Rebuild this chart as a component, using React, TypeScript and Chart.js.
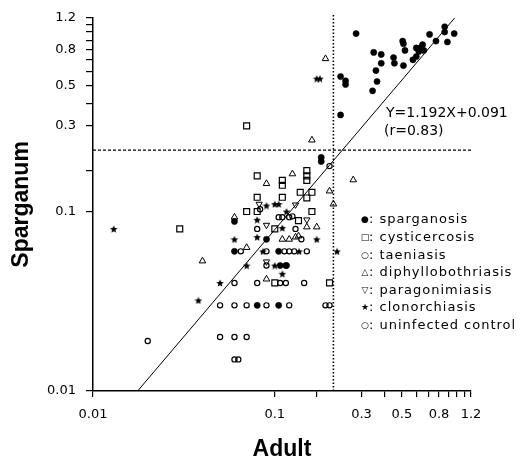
import React, { useEffect, useRef } from 'react';
import { Chart, registerables } from 'chart.js';

Chart.register(...registerables);

// ---- axis ticks ----
const labeledTicks = [0.01, 0.1, 0.3, 0.5, 0.8, 1.2];
const minorTicks = [0.17, 0.4, 0.6, 0.7, 0.9, 1.0, 1.1];

// ---- cut-off lines & regression ----
const cutoffX = 0.21;
const cutoffY = 0.22;
const regX = [0.0176, 0.977];
const regY = [0.01, 1.2];

// ---- series ----
const sparganosisX = [0.28, 0.35, 0.385, 0.45, 0.385, 0.455, 0.51, 0.36, 0.365, 0.345, 0.23, 0.245, 0.245, 0.23, 0.505, 0.51, 0.52, 0.575, 0.6, 0.62, 0.63, 0.65, 0.6, 0.66, 0.71, 0.77, 0.86, 0.86, 0.97, 0.89, 0.18, 0.18, 0.06, 0.09, 0.105, 0.107, 0.116, 0.08, 0.105, 0.06];
const sparganosisY = [0.98, 0.77, 0.75, 0.72, 0.67, 0.67, 0.65, 0.61, 0.53, 0.47, 0.565, 0.535, 0.51, 0.345, 0.89, 0.86, 0.79, 0.7, 0.73, 0.78, 0.815, 0.85, 0.815, 0.79, 0.97, 0.89, 1.07, 1.0, 0.98, 0.88, 0.2, 0.19, 0.06, 0.07, 0.06, 0.05, 0.05, 0.03, 0.03, 0.088];

const cysticercosisX = [0.03, 0.07, 0.08, 0.11, 0.11, 0.15, 0.15, 0.15, 0.138, 0.16, 0.15, 0.11, 0.07, 0.08, 0.16, 0.135, 0.1, 0.1, 0.2, 0.08];
const cysticercosisY = [0.08, 0.3, 0.158, 0.149, 0.14, 0.169, 0.158, 0.149, 0.128, 0.128, 0.119, 0.12, 0.1, 0.1, 0.1, 0.089, 0.08, 0.04, 0.04, 0.12];

const taeniasisX = [0.083, 0.105, 0.11, 0.12, 0.125, 0.13, 0.14, 0.2];
const taeniasisY = [0.103, 0.093, 0.093, 0.093, 0.094, 0.08, 0.07, 0.179];

const diphyllobothriasisX = [0.04, 0.06, 0.07, 0.09, 0.125, 0.11, 0.12, 0.13, 0.135, 0.15, 0.17, 0.09, 0.16, 0.19, 0.27, 0.2, 0.21];
const diphyllobothriasisY = [0.053, 0.093, 0.063, 0.143, 0.162, 0.07, 0.07, 0.072, 0.073, 0.082, 0.082, 0.042, 0.25, 0.71, 0.15, 0.13, 0.11];

const paragonimiasisX = [0.082, 0.09, 0.13, 0.15, 0.09];
const paragonimiasisY = [0.11, 0.084, 0.109, 0.09, 0.0525];

const clonorchiasisX = [0.013, 0.038, 0.05, 0.06, 0.08, 0.08, 0.09, 0.1, 0.105, 0.116, 0.11, 0.086, 0.136, 0.17, 0.22, 0.07, 0.1, 0.11, 0.17, 0.177];
const clonorchiasisY = [0.08, 0.032, 0.04, 0.07, 0.072, 0.09, 0.108, 0.11, 0.11, 0.1, 0.081, 0.06, 0.06, 0.07, 0.06, 0.05, 0.05, 0.045, 0.55, 0.55];

const controlX = [0.02, 0.065, 0.09, 0.113, 0.12, 0.128, 0.15, 0.08, 0.09, 0.115, 0.06, 0.08, 0.107, 0.115, 0.145, 0.05, 0.06, 0.07, 0.09, 0.12, 0.19, 0.2, 0.05, 0.06, 0.07, 0.06, 0.063];
const controlY = [0.019, 0.06, 0.06, 0.06, 0.06, 0.06, 0.06, 0.08, 0.05, 0.05, 0.04, 0.04, 0.04, 0.04, 0.04, 0.03, 0.03, 0.03, 0.03, 0.03, 0.03, 0.03, 0.02, 0.02, 0.02, 0.015, 0.015];

const legendItems = [
  { sym: '●', label: ': sparganosis' },
  { sym: '□', label: ': cysticercosis' },
  { sym: '○', label: ': taeniasis' },
  { sym: '△', label: ': diphyllobothriasis' },
  { sym: '▽', label: ': paragonimiasis' },
  { sym: '★', label: ': clonorchiasis' },
  { sym: '○', label: ': uninfected control' },
];

const pts = (xs: number[], ys: number[]) => xs.map((x, i) => ({ x, y: ys[i] }));

function makeStar(size: number): HTMLCanvasElement {
  const c = document.createElement('canvas');
  c.width = size;
  c.height = size;
  const ctx = c.getContext('2d')!;
  ctx.fillStyle = '#000';
  ctx.beginPath();
  const cx = size / 2, cy = size / 2 + 0.4, R = size / 2, r = R * 0.45;
  for (let i = 0; i < 10; i++) {
    const a = -Math.PI / 2 + (i * Math.PI) / 5;
    const rad = i % 2 === 0 ? R : r;
    ctx.lineTo(cx + rad * Math.cos(a), cy + rad * Math.sin(a));
  }
  ctx.closePath();
  ctx.fill();
  return c;
}

const overlayPlugin = {
  id: 'overlayText',
  afterDraw(chart: any) {
    const ctx = chart.ctx as CanvasRenderingContext2D;
    ctx.save();
    ctx.fillStyle = '#000';
    ctx.textBaseline = 'middle';
    ctx.textAlign = 'left';
    ctx.font = '14px "DejaVu Sans"';
    ctx.fillText('Y=1.192X+0.091', 386, 113);
    ctx.fillText('(r=0.83)', 384, 131);
    const x0 = 365;
    const y0 = 220;
    const step = 17.6;
    legendItems.forEach((it, i) => {
      const y = y0 + i * step;
      ctx.textAlign = 'center';
      ctx.font = '9px "DejaVu Sans"';
      (ctx as any).letterSpacing = '0px';
      ctx.fillText(it.sym, x0, y);
      ctx.textAlign = 'left';
      ctx.font = '13px "DejaVu Sans"';
      (ctx as any).letterSpacing = '1px';
      ctx.fillText(it.label, x0 + 4, y);
    });
    ctx.restore();
  },
};

function fmtTick(v: number): string {
  const hit = labeledTicks.find((l) => Math.abs(l - v) < 1e-9);
  return hit !== undefined ? String(hit) : '';
}

function axisBase(isX: boolean) {
  return {
    type: 'logarithmic' as const,
    min: 0.01,
    max: 1.2,
    position: isX ? 'bottom' : 'left',
    border: { display: true, color: '#000', width: 1.5 },
    grid: {
      display: true,
      drawOnChartArea: false,
      drawTicks: true,
      tickLength: isX ? 6 : 7,
      color: '#000',
      lineWidth: 1.2,
    },
    afterBuildTicks: (scale: any) => {
      scale.ticks = [...labeledTicks, ...minorTicks]
        .sort((a, b) => a - b)
        .map((v) => ({ value: v }));
    },
    ticks: {
      autoSkip: false,
      maxRotation: 0,
      minRotation: 0,
      color: '#000',
      padding: 10,
      font: { family: 'DejaVu Sans', size: 13 },
      callback: (v: any) => fmtTick(Number(v)),
    },
    title: {
      display: true,
      text: isX ? 'Adult' : 'Sparganum',
      color: '#000',
      font: { family: 'Liberation Sans', size: 23, weight: 'bold', lineHeight: 1 },
      padding: isX ? { top: 0, bottom: 1 } : { top: 10, bottom: 0 },
    },
    afterFit: (scale: any) => {
      if (isX) scale.height = 71;
      else scale.width = 93;
    },
  };
}

export default function App() {
  const ref = useRef<HTMLCanvasElement | null>(null);

  useEffect(() => {
    if (!ref.current) return;
    const star = makeStar(8);
    const base = { showLine: false, borderColor: '#000', backgroundColor: 'rgba(0,0,0,0)' };
    const chart = new Chart(ref.current, {
      type: 'scatter',
      data: {
        datasets: [
          {
            label: 'regression',
            data: pts(regX, regY),
            showLine: true,
            borderColor: '#000',
            borderWidth: 1,
            pointRadius: 0,
          },
          {
            label: 'cutoffY',
            data: [{ x: 0.01, y: cutoffY }, { x: 1.2, y: cutoffY }],
            showLine: true,
            borderColor: '#000',
            borderWidth: 1.2,
            borderDash: [3, 2],
            pointRadius: 0,
          },
          {
            label: 'cutoffX',
            data: [{ x: cutoffX, y: 0.01 }, { x: cutoffX, y: 1.26 }],
            showLine: true,
            borderColor: '#000',
            borderWidth: 1.6,
            borderDash: [1.5, 2],
            pointRadius: 0,
            clip: false,
          },
          {
            ...base,
            label: 'sparganosis',
            data: pts(sparganosisX, sparganosisY),
            pointStyle: 'circle',
            pointRadius: 3.1,
            backgroundColor: '#000',
            borderWidth: 0.5,
          },
          {
            ...base,
            label: 'cysticercosis',
            data: pts(cysticercosisX, cysticercosisY),
            pointStyle: 'rect',
            pointRadius: 4.2,
            borderWidth: 1.2,
          },
          {
            ...base,
            label: 'taeniasis',
            data: pts(taeniasisX, taeniasisY),
            pointStyle: 'circle',
            pointRadius: 2.6,
            borderWidth: 1.2,
          },
          {
            ...base,
            label: 'diphyllobothriasis',
            data: pts(diphyllobothriasisX, diphyllobothriasisY),
            pointStyle: 'triangle',
            pointRadius: 3.8,
            borderWidth: 1,
          },
          {
            ...base,
            label: 'paragonimiasis',
            data: pts(paragonimiasisX, paragonimiasisY),
            pointStyle: 'triangle',
            rotation: 180,
            pointRadius: 3.6,
            borderWidth: 1,
          },
          {
            ...base,
            label: 'clonorchiasis',
            data: pts(clonorchiasisX, clonorchiasisY),
            pointStyle: star,
            pointRadius: 4,
          },
          {
            ...base,
            label: 'uninfected control',
            data: pts(controlX, controlY),
            pointStyle: 'circle',
            pointRadius: 2.6,
            borderWidth: 1.2,
          },
        ],
      },
      options: {
        animation: false,
        responsive: false,
        maintainAspectRatio: false,
        layout: { padding: { top: 10, right: 59, left: 0, bottom: 0 } },
        plugins: {
          legend: { display: false },
          tooltip: { enabled: false },
        },
        scales: {
          x: axisBase(true) as any,
          y: axisBase(false) as any,
        },
      },
      plugins: [overlayPlugin],
    });
    return () => chart.destroy();
  }, []);

  return (
    <div style={{ position: 'fixed', left: 0, top: 0, width: 530, height: 462, background: '#fff' }}>
      <canvas ref={ref} width={530} height={462} />
    </div>
  );
}
